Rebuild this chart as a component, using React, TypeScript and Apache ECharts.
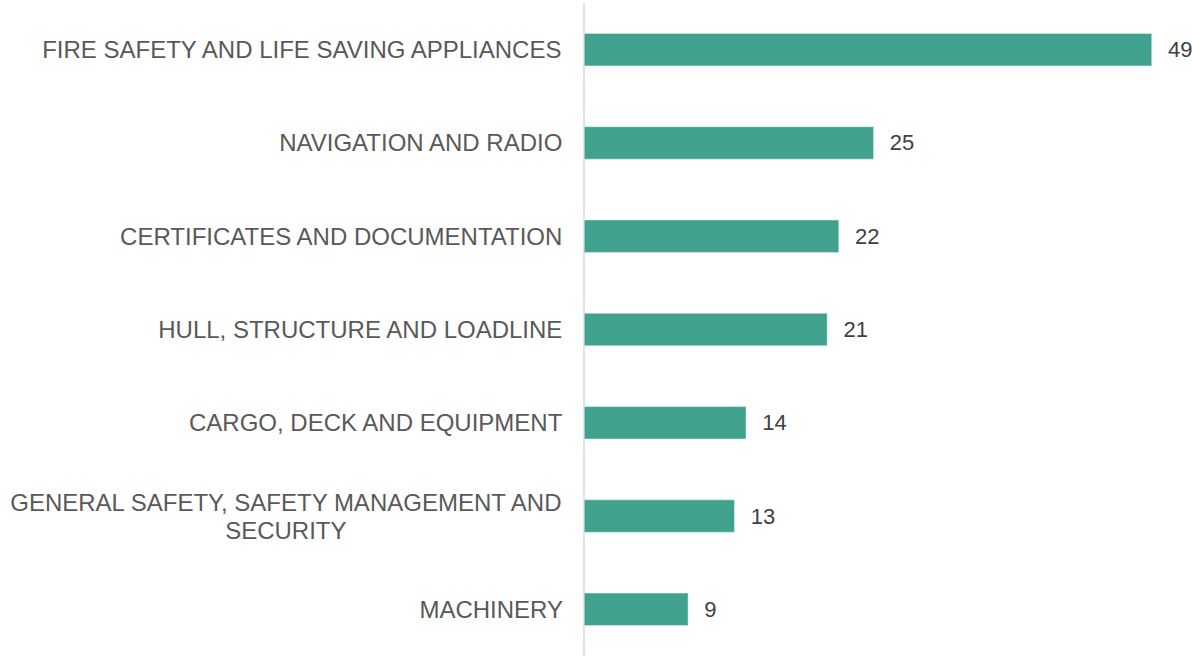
import React, { useEffect, useRef } from "react";
import * as echarts from "echarts";

const categories = [
  "FIRE SAFETY AND LIFE SAVING APPLIANCES",
  "NAVIGATION AND RADIO",
  "CERTIFICATES AND DOCUMENTATION",
  "HULL, STRUCTURE AND LOADLINE",
  "CARGO, DECK AND EQUIPMENT",
  "GENERAL SAFETY, SAFETY MANAGEMENT AND\nSECURITY",
  "MACHINERY",
];
const values = [49, 25, 22, 21, 14, 13, 9];

export default function App() {
  const ref = useRef<HTMLDivElement>(null);
  useEffect(() => {
    if (!ref.current) return;
    const chart = echarts.init(ref.current, null, { renderer: "svg" });
    const font = "'Liberation Sans', Arial, sans-serif";
    chart.setOption({
      animation: false,
      backgroundColor: "#ffffff",
      grid: { left: 584, right: 40, top: 3, bottom: 0, containLabel: false },
      xAxis: {
        type: "value",
        min: 0,
        max: 49,
        show: false,
        splitLine: { show: false },
      },
      yAxis: {
        type: "category",
        inverse: true,
        data: categories,
        axisLine: { show: true, lineStyle: { color: "#d9d9d9", width: 1.5 } },
        axisTick: { show: false },
        splitLine: { show: false },
        axisLabel: {
          margin: 21,
          fontSize: 24,
          fontFamily: font,
          color: "#595959",
          lineHeight: 28,
          formatter: (v: string) =>
            v
              .split("\n")
              .map((s) => `{c|${s}}`)
              .join("\n"),
          rich: {
            c: {
              align: "center",
              fontSize: 24,
              fontFamily: font,
              color: "#595959",
              lineHeight: 28,
            },
          },
        },
      },
      series: [
        {
          type: "bar",
          data: values,
          barWidth: 33,
          itemStyle: { color: "#40a28e", borderColor: "#e8f4f1", borderWidth: 0.5 },
          label: {
            show: true,
            position: "right",
            distance: 16,
            fontSize: 22,
            fontFamily: font,
            color: "#404040",
          },
        },
      ],
    });
    return () => chart.dispose();
  }, []);
  return (
    <div
      ref={ref}
      style={{ position: "fixed", left: 0, top: 0, width: 1192, height: 656 }}
    />
  );
}
